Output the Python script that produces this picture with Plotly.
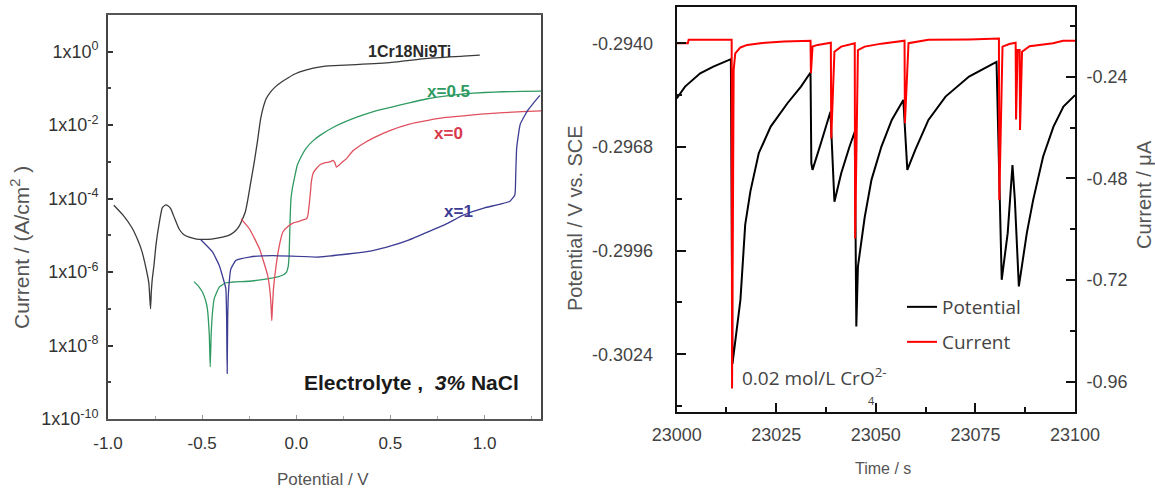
import numpy as np
import plotly.graph_objects as go

# ---------------- Polarization curves: potential (V) vs log10 current density (A/cm^2)
ss_E = [-0.969, -0.92, -0.872, -0.840, -0.819, -0.800, -0.783, -0.778, -0.774, -0.770, -0.765,
        -0.756, -0.745, -0.729, -0.712, -0.694, -0.680, -0.667, -0.645, -0.623, -0.600, -0.569,
        -0.530, -0.498, -0.45, -0.392, -0.350, -0.320, -0.300, -0.285, -0.270, -0.258, -0.245,
        -0.232, -0.223, -0.205, -0.190, -0.175, -0.160, -0.137, -0.110, -0.080, -0.040, -0.005,
        0.05, 0.128, 0.2, 0.318, 0.507, 0.697, 0.887, 0.975]
ss_logi = [-4.18, -4.45, -4.80, -5.15, -5.45, -5.85, -6.30, -6.70, -7.00, -6.55, -6.20,
           -5.82, -5.25, -4.70, -4.25, -4.17, -4.20, -4.27, -4.55, -4.82, -4.97, -5.05,
           -5.10, -5.11, -5.10, -5.05, -4.98, -4.86, -4.72, -4.55, -4.35, -4.05, -3.65,
           -3.27, -3.00, -2.40, -1.85, -1.51, -1.28, -1.10, -0.95, -0.83, -0.70, -0.60,
           -0.50, -0.41, -0.38, -0.35, -0.29, -0.18, -0.12, -0.09]

x05_E = [-0.543, -0.520, -0.498, -0.480, -0.472, -0.462, -0.457, -0.452, -0.445, -0.436, -0.409,
         -0.374, -0.338, -0.30, -0.251, -0.20, -0.125, -0.099, -0.070, -0.052, -0.043, -0.038,
         -0.035, -0.032, -0.028, -0.020, -0.010, 0.005, 0.03, 0.052, 0.09, 0.128, 0.2, 0.318,
         0.41, 0.507, 0.6, 0.697, 0.80, 0.887, 1.0, 1.1, 1.2, 1.3]
x05_logi = [-6.26, -6.38, -6.55, -6.80, -7.00, -7.70, -8.58, -7.70, -7.10, -6.73, -6.41,
            -6.29, -6.27, -6.26, -6.25, -6.22, -6.16, -6.13, -6.08, -6.00, -5.85, -5.55,
            -5.00, -4.45, -4.00, -3.70, -3.45, -3.10, -2.82, -2.63, -2.42, -2.27, -2.05, -1.79,
            -1.63, -1.51, -1.39, -1.28, -1.20, -1.15, -1.11, -1.09, -1.08, -1.07]

x0_E = [-0.293, -0.249, -0.196, -0.152, -0.139, -0.133, -0.130, -0.127, -0.121, -0.107, -0.090,
        -0.071, -0.043, -0.015, 0.014, 0.040, 0.055, 0.062, 0.068, 0.075, 0.080, 0.090, 0.107,
        0.128, 0.155, 0.178, 0.195, 0.205, 0.213, 0.225, 0.245, 0.267, 0.299, 0.35, 0.413,
        0.50, 0.602, 0.70, 0.792, 0.9, 0.981, 1.1, 1.2, 1.3]
x0_logi = [-4.55, -4.82, -5.36, -6.09, -6.55, -7.00, -7.32, -7.00, -6.45, -5.82, -5.28,
           -4.91, -4.75, -4.66, -4.62, -4.57, -4.55, -4.45, -4.20, -3.85, -3.55, -3.30, -3.18,
           -3.07, -3.02, -3.00, -2.96, -3.02, -3.14, -3.10, -3.00, -2.91, -2.71, -2.52, -2.34,
           -2.14, -1.97, -1.87, -1.79, -1.74, -1.70, -1.66, -1.63, -1.61]

x1_E = [-0.507, -0.445, -0.409, -0.383, -0.374, -0.370, -0.367, -0.364, -0.360, -0.347, -0.320,
        -0.249, -0.125, 0.107, 0.284, 0.40, 0.507, 0.60, 0.697, 0.80, 0.887, 1.0, 1.133, 1.161,
        1.166, 1.171, 1.190, 1.228, 1.260, 1.294]
x1_logi = [-5.12, -5.45, -5.82, -6.27, -6.45, -7.20, -8.76, -7.20, -6.55, -5.91, -5.68,
           -5.59, -5.55, -5.59, -5.50, -5.42, -5.28, -5.12, -4.91, -4.68, -4.45, -4.25, -4.08, -3.90,
           -3.30, -2.61, -1.97, -1.61, -1.40, -1.19]

log_tickvals = [1e0, 1e-2, 1e-4, 1e-6, 1e-8, 1e-10]
log_ticktext = ["1x10<sup>0</sup>", "1x10<sup>-2</sup>", "1x10<sup>-4</sup>",
                "1x10<sup>-6</sup>", "1x10<sup>-8</sup>", "1x10<sup>-10</sup>"]
E_tickvals = [-1.0, -0.5, 0.0, 0.5, 1.0]
E_ticktext = ["-1.0", "-0.5", "0.0", "0.5", "1.0"]

# ---------------- Potential and current transients in 0.02 mol/L chromate
pot_t = [23000.0, 23002.1, 23005.9, 23009.2, 23013.6, 23014.0, 23016.0, 23017.2, 23018.5,
         23020.6, 23023.6, 23027.8, 23031.2, 23033.6, 23033.8, 23034.1, 23036.2, 23038.6,
         23039.6, 23041.3, 23043.4, 23044.7, 23045.1, 23045.5, 23047.2, 23048.9, 23051.4,
         23054.0, 23056.9, 23057.9, 23059.9, 23063.2, 23067.5, 23073.4, 23080.3, 23081.6,
         23083.1, 23084.3, 23084.9, 23085.9, 23087.9, 23089.5, 23092.0, 23094.6, 23097.1,
         23100.0]
pot_v = [-0.29549, -0.29517, -0.29481, -0.29463, -0.29443, -0.30266, -0.30093, -0.29890, -0.29800,
         -0.29697, -0.29625, -0.29562, -0.29517, -0.29479, -0.29724, -0.29742, -0.29670, -0.29585,
         -0.29828, -0.29751, -0.29679, -0.29639, -0.30165, -0.30003, -0.29870, -0.29769, -0.29679,
         -0.29607, -0.29553, -0.29742, -0.29688, -0.29607, -0.29544, -0.29490, -0.29450, -0.30039,
         -0.29913, -0.29729, -0.29823, -0.30057, -0.29913, -0.29823, -0.29706, -0.29625, -0.29571,
         -0.29540]

cur_t = [23000.0, 23002.8, 23003.0, 23013.8, 23013.9, 23014.3, 23014.7, 23016.0, 23017.7,
         23021.0, 23026.9, 23033.6, 23033.7, 23034.1, 23035.4, 23038.7, 23038.8, 23039.6,
         23041.3, 23044.7, 23044.8, 23045.5, 23047.2, 23051.4, 23057.2, 23057.3, 23058.2,
         23063.2, 23073.4, 23080.9, 23081.0, 23081.8, 23083.5, 23085.1, 23085.2, 23085.6,
         23086.1, 23086.2, 23086.7, 23088.6, 23094.5, 23097.0, 23100.0]
cur_i = [-0.161, -0.161, -0.153, -0.153, -0.976, -0.224, -0.185, -0.171, -0.165,
         -0.161, -0.157, -0.155, -0.232, -0.169, -0.165, -0.160, -0.386, -0.181,
         -0.169, -0.161, -0.622, -0.177, -0.169, -0.162, -0.155, -0.350, -0.161,
         -0.153, -0.152, -0.150, -0.531, -0.169, -0.163, -0.160, -0.341, -0.177,
         -0.177, -0.366, -0.181, -0.168, -0.161, -0.155, -0.155]

time_tickvals = [23000, 23025, 23050, 23075, 23100]
pot_tickvals = [-0.2940, -0.2968, -0.2996, -0.3024]
pot_minor = [-0.2954, -0.2982, -0.3010, -0.3038]
cur_tickvals = [-0.24, -0.48, -0.72, -0.96]
cur_minor = [-0.12, -0.36, -0.60, -0.84]

W, H = 1155, 489


def fx(p):
    return p / W


def fy(p):
    return 1 - p / H


SANS = "Liberation Sans, Arial, sans-serif"
OPEN = "Open Sans, sans-serif"

fig = go.Figure()

curves = [
    (ss_E, ss_logi, "#3a3a3a"),
    (x05_E, x05_logi, "#2f9a62"),
    (x0_E, x0_logi, "#e0505e"),
    (x1_E, x1_logi, "#3c3c94"),
]
for E, lg, col in curves:
    fig.add_trace(go.Scatter(x=E, y=np.power(10.0, lg), mode="lines",
                             line=dict(color=col, width=1.3, shape="spline", smoothing=0.4),
                             xaxis="x", yaxis="y", showlegend=False))

fig.add_trace(go.Scatter(x=pot_t, y=pot_v, mode="lines", name="Potential",
                         line=dict(color="#000000", width=2),
                         xaxis="x2", yaxis="y2", legend="legend"))
fig.add_trace(go.Scatter(x=cur_t, y=cur_i, mode="lines", name="Current",
                         line=dict(color="#ff0000", width=2),
                         xaxis="x2", yaxis="y3", legend="legend2"))

axis_common = dict(showline=True, mirror=True, showgrid=False, zeroline=False,
                   ticks="inside", automargin=False)

fig.update_layout(
    width=W, height=H,
    margin=dict(l=0, r=0, t=0, b=0, autoexpand=False),
    paper_bgcolor="white", plot_bgcolor="white",
    xaxis=dict(domain=[fx(108), fx(541)], range=[-1.0, 1.3], anchor="y",
               tickvals=E_tickvals, ticktext=E_ticktext, ticklen=4, tickcolor="#999",
               linecolor="#555", linewidth=1.5,
               tickfont=dict(family=SANS, size=17, color="#333"), ticklabelstandoff=8,
               minor=dict(tickvals=[-0.75, -0.25, 0.25, 0.75, 1.25], ticklen=3,
                          ticks="inside", tickcolor="#aaa"),
               **axis_common),
    yaxis=dict(domain=[fy(419), fy(15)], type="log", range=[-10, 1.0], anchor="x",
               tickvals=log_tickvals, ticktext=log_ticktext, ticklen=5, tickwidth=1.5,
               tickcolor="#333", linecolor="#444", linewidth=1.8,
               tickfont=dict(family=SANS, size=18, color="#333"), ticklabelstandoff=4,
               minor=dict(tickvals=[1e-1, 1e-3, 1e-5, 1e-7, 1e-9], ticklen=3,
                          ticks="inside", tickcolor="#444"),
               **axis_common),
    xaxis2=dict(domain=[fx(676.7), fx(1075)], range=[23000, 23100], anchor="y2",
                tickvals=time_tickvals, ticktext=[str(v) for v in time_tickvals],
                ticklen=9, tickwidth=2, tickcolor="#111",
                linecolor="#111", linewidth=2,
                tickfont=dict(family=SANS, size=18, color="#444"), ticklabelstandoff=5,
                minor=dict(tickvals=[23012.5, 23037.5, 23062.5, 23087.5], ticklen=5,
                           ticks="inside", tickcolor="#111", tickwidth=2),
                **axis_common),
    yaxis2=dict(domain=[fy(412.3), fy(7)], range=[-0.30397, -0.29302], anchor="x2",
                tickvals=pot_tickvals, ticktext=["%.4f" % v for v in pot_tickvals],
                ticklen=9, tickwidth=2, tickcolor="#111", linecolor="#111", linewidth=2,
                tickfont=dict(family=SANS, size=18, color="#444"), ticklabelstandoff=18,
                minor=dict(tickvals=pot_minor, ticklen=5, ticks="inside",
                           tickcolor="#111", tickwidth=2),
                **axis_common),
    yaxis3=dict(overlaying="y2", side="right", anchor="x2", range=[-1.0323, -0.0755],
                tickvals=cur_tickvals, ticktext=["%.2f" % v for v in cur_tickvals],
                ticklen=9, tickwidth=2, tickcolor="#111", linecolor="#111", linewidth=2,
                tickfont=dict(family=SANS, size=18, color="#444"), ticklabelstandoff=6,
                minor=dict(tickvals=cur_minor, ticklen=5, ticks="inside",
                           tickcolor="#111", tickwidth=2),
                showline=True, showgrid=False, zeroline=False, ticks="inside",
                automargin=False),
    legend=dict(x=fx(902), y=fy(307), xanchor="left", yanchor="middle",
                bgcolor="rgba(0,0,0,0)", font=dict(family=OPEN, size=19, color="#444")),
    legend2=dict(x=fx(902), y=fy(342), xanchor="left", yanchor="middle",
                 bgcolor="rgba(0,0,0,0)", font=dict(family=OPEN, size=19, color="#444")),
)

annotations = [
    # axis titles
    dict(x=fx(20), y=fy(248), text="Current / (A/cm<sup>2</sup> )", textangle=-90,
         font=dict(family=SANS, size=21, color="#555")),
    dict(x=fx(323), y=fy(479), text="Potential / V",
         font=dict(family=SANS, size=17, color="#555")),
    dict(x=fx(575), y=fy(218), text="Potential / V vs. SCE", textangle=-90,
         font=dict(family=SANS, size=20, color="#555")),
    dict(x=fx(1144), y=fy(195), text="Current / μA", textangle=-90,
         font=dict(family=SANS, size=20, color="#555")),
    dict(x=fx(883), y=fy(468), text="Time / s",
         font=dict(family=SANS, size=16, color="#555")),
    # right panel note
    dict(x=fx(740), y=fy(377), text="0.02 mol/L CrO<sup>2-</sup>",
         font=dict(family=OPEN, size=19, color="#444")),
    dict(x=fx(871), y=fy(400), text="4", font=dict(family=OPEN, size=11, color="#444")),
]
for a in annotations:
    a.update(xref="paper", yref="paper", showarrow=False, yanchor="middle")
    a.setdefault("xanchor", "center")
annotations[5]["xanchor"] = "left"

# curve labels on the polarization plot (data coordinates)
labels = [
    (0.60, 0.0, "1Cr18Ni9Ti", "#2a2a2a", 16),
    (0.81, -1.09, "x=0.5", "#2f9a62", 17),
    (0.81, -2.23, "x=0", "#d83a4c", 17),
    (0.86, -4.34, "x=1", "#3c3c94", 17),
]
for ex, ly, txt, col, sz in labels:
    annotations.append(dict(x=ex, y=ly, xref="x", yref="y", text="<b>%s</b>" % txt,
                            showarrow=False, xanchor="center", yanchor="middle",
                            font=dict(family=SANS, size=sz, color=col)))
annotations.append(dict(x=0.61, y=-9.0, xref="x", yref="y", showarrow=False,
                        xanchor="center", yanchor="middle",
                        text="<b>Electrolyte ,  <i>3%</i> NaCl</b>",
                        font=dict(family=SANS, size=21, color="#1a1a1a")))

fig.update_layout(annotations=annotations)

fig.write_html("out.html")
